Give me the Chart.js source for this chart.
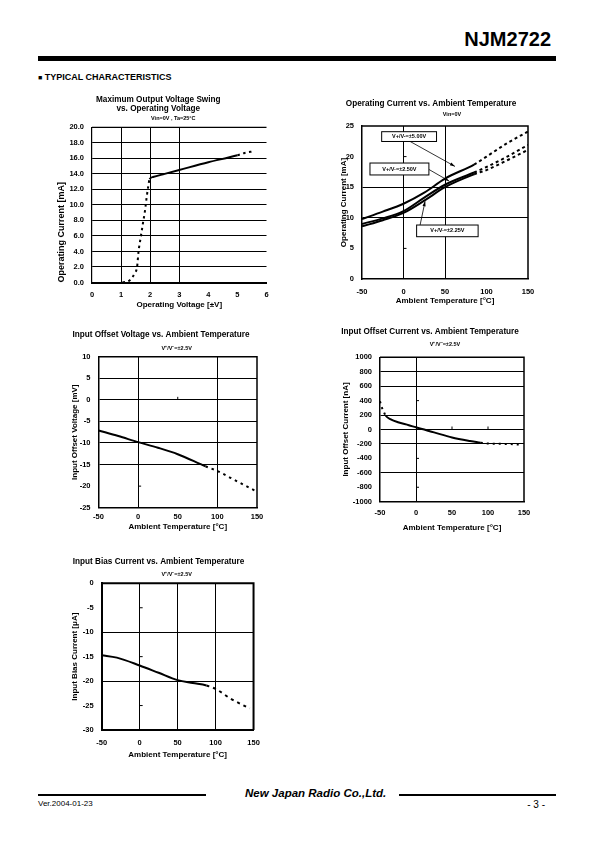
<!DOCTYPE html>
<html>
<head>
<meta charset="utf-8">
<title>NJM2722 Typical Characteristics</title>
<script src="https://cdn.jsdelivr.net/npm/chart.js@4.4.1/dist/chart.umd.min.js"></script>
<style>
  body { margin: 0; width: 595px; height: 842px; position: relative; background: #fff; color: #000;
         font-family: "Liberation Sans", Arial, sans-serif; overflow: hidden; }
  canvas { position: absolute; }
  .abs { position: absolute; white-space: nowrap; }
  #partno { right: 44px; top: 29px; font-size: 20px; line-height: 20px; font-weight: bold; }
  #topbar { left: 38px; top: 56px; width: 518px; height: 5px; background: #000; }
  #section { left: 38px; top: 72px; font-size: 9px; line-height: 10px; font-weight: bold; }
  #section .sq { font-size: 7px; }
  #lineL { left: 38px; top: 794px; width: 168px; height: 2px; background: #000; }
  #lineR { left: 399px; top: 794px; width: 157px; height: 2px; background: #000; }
  #brand { left: 245px; top: 787px; font-size: 11.5px; line-height: 12px; font-weight: bold; font-style: italic; }
  #ver { left: 38px; top: 799px; font-size: 8px; line-height: 9px; }
  #pg { right: 50px; top: 800px; font-size: 10px; line-height: 10px; }
</style>
</head>
<body>
<div id="partno" class="abs">NJM2722</div>
<div id="topbar" class="abs"></div>
<div id="section" class="abs"><span class="sq">■</span> TYPICAL CHARACTERISTICS</div>

<canvas id="c1"></canvas>
<canvas id="c2"></canvas>
<canvas id="c3"></canvas>
<canvas id="c4"></canvas>
<canvas id="c5"></canvas>

<div id="lineL" class="abs"></div>
<div id="brand" class="abs">New Japan Radio Co.,Ltd.</div>
<div id="lineR" class="abs"></div>
<div id="ver" class="abs">Ver.2004-01-23</div>
<div id="pg" class="abs">- 3 -</div>

<script>
// Maximum output voltage swing vs. operating voltage
const swingVolt = [1.05, 1.3, 1.47, 1.55, 1.6, 1.67, 1.75, 1.82, 1.88, 1.93, 1.98, 2.1, 2.5, 3.0, 4.0, 5.0, 5.25, 5.55];
const swingCurr = [0.0, 0.3, 1.2, 2.0, 4.0, 5.7, 7.6, 9.2, 11.0, 12.3, 13.3, 13.6, 14.0, 14.5, 15.5, 16.4, 16.7, 16.9];
const swingXTicks = [0, 1, 2, 3, 4, 5, 6];
const swingYTicks = [0, 2, 4, 6, 8, 10, 12, 14, 16, 18, 20];

// Operating current vs. ambient temperature
const opTemp = [-50, -25, 0, 25, 50, 85, 100, 125, 150];
const opCur500 = [9.8, 11.0, 12.3, 14.1, 16.4, 18.7, 20.0, 22.2, 24.1];
const opCur250 = [9.0, 9.9, 11.1, 13.3, 15.4, 17.4, 18.3, 20.0, 21.9];
const opCur225 = [8.6, 9.6, 10.8, 12.8, 15.0, 17.1, 17.8, 19.4, 21.1];
const opLabels = ['V+/V-=±5.00V', 'V+/V-=±2.50V', 'V+/V-=±2.25V'];
const opYTicks = [0, 5, 10, 15, 20, 25];

const tempTicks = [-50, 0, 50, 100, 150];

// Input offset voltage vs. ambient temperature
const vosTemp = [-50, -25, 0, 25, 50, 85, 100, 125, 147];
const vos = [-7.1, -8.4, -9.8, -11.1, -12.6, -15.4, -16.5, -18.9, -21.0];
const vosYTicks = [-25, -20, -15, -10, -5, 0, 5, 10];

// Input offset current vs. ambient temperature
const iosTemp = [-50, -48, -45, -42, -35, -25, -10, 0, 25, 50, 75, 90, 100, 125, 147];
const ios = [390, 320, 250, 190, 140, 100, 60, 30, -40, -110, -160, -185, -195, -200, -210];
const iosYTicks = [-1000, -800, -600, -400, -200, 0, 200, 400, 600, 800, 1000];

// Input bias current vs. ambient temperature
const ibTemp = [-50, -30, 0, 25, 50, 70, 88, 100, 120, 145];
const ib = [-14.7, -15.2, -16.8, -18.3, -19.8, -20.4, -20.9, -21.6, -23.6, -25.6];
const ibYTicks = [-30, -25, -20, -15, -10, -5, 0];

const FAMILY = '"Liberation Sans", Arial, sans-serif';
const TICK_FONT = { family: FAMILY, size: 7.5, weight: 'bold', lineHeight: 1.2 };
const TITLE_FONT = { family: FAMILY, size: 8.2, weight: 'bold', lineHeight: 1.1 };

function series(xs, ys, dotted, dash) {
    return {
        data: xs.map((x, i) => ({ x: x, y: ys[i] })),
        borderColor: '#000', borderWidth: 2, pointRadius: 0,
        cubicInterpolationMode: 'monotone', fill: false,
        segment: { borderDash: c => dotted(c.p0DataIndex) ? dash : undefined }
    };
}

// subtitle under the chart title
const notePlugin = {
    id: 'note',
    afterDraw(chart, args, o) {
        if (!o.text) return;
        const ctx = chart.ctx;
        ctx.save();
        ctx.font = 'bold 5.5px ' + FAMILY;
        ctx.fillStyle = '#000';
        ctx.textAlign = 'center';
        ctx.textBaseline = 'middle';
        ctx.fillText(o.text, o.x, o.y);
        ctx.restore();
    }
};

// top / right edge of the plot box
const framePlugin = {
    id: 'frame',
    afterDraw(chart, args, o) {
        const a = chart.chartArea, ctx = chart.ctx;
        ctx.save();
        ctx.strokeStyle = '#000';
        ctx.lineWidth = o.width || 1.5;
        ctx.beginPath();
        ctx.moveTo(a.left, a.top);
        ctx.lineTo(a.right, a.top);
        if (o.right) ctx.lineTo(a.right, a.bottom);
        ctx.stroke();
        ctx.restore();
    }
};

// short tick marks left inside the plot
const marksPlugin = {
    id: 'marks',
    beforeDatasetsDraw(chart, args, o) {
        if (!o.list) return;
        const sx = chart.scales.x, sy = chart.scales.y, ctx = chart.ctx;
        ctx.save();
        ctx.strokeStyle = '#000';
        ctx.lineWidth = 1;
        ctx.beginPath();
        o.list.forEach(m => {
            const x = sx.getPixelForValue(m.x), y = sy.getPixelForValue(m.y);
            ctx.moveTo(x, y);
            ctx.lineTo(x + (m.dx || 0), y + (m.dy || 0));
        });
        ctx.stroke();
        ctx.restore();
    }
};

// labelled boxes with arrows (operating current chart)
const calloutPlugin = {
    id: 'callouts',
    afterDatasetsDraw(chart, args, o) {
        if (!o.items) return;
        const sx = chart.scales.x, sy = chart.scales.y, ctx = chart.ctx;
        ctx.save();
        ctx.strokeStyle = '#000';
        ctx.fillStyle = '#000';
        o.items.forEach(c => {
            const fx = sx.getPixelForValue(c.from[0]), fy = sy.getPixelForValue(c.from[1]);
            const tx = sx.getPixelForValue(c.to[0]), ty = sy.getPixelForValue(c.to[1]);
            ctx.lineWidth = 0.8;
            ctx.beginPath(); ctx.moveTo(fx, fy); ctx.lineTo(tx, ty); ctx.stroke();
            const ang = Math.atan2(ty - fy, tx - fx);
            ctx.beginPath();
            ctx.moveTo(tx, ty);
            ctx.lineTo(tx - 5 * Math.cos(ang) + 1.6 * Math.sin(ang), ty - 5 * Math.sin(ang) - 1.6 * Math.cos(ang));
            ctx.lineTo(tx - 5 * Math.cos(ang) - 1.6 * Math.sin(ang), ty - 5 * Math.sin(ang) + 1.6 * Math.cos(ang));
            ctx.closePath(); ctx.fill();

            const x0 = sx.getPixelForValue(c.box[0]), y0 = sy.getPixelForValue(c.box[1]);
            const x1 = sx.getPixelForValue(c.box[2]), y1 = sy.getPixelForValue(c.box[3]);
            ctx.fillStyle = '#fff';
            ctx.fillRect(x0, y0, x1 - x0, y1 - y0);
            ctx.lineWidth = 1;
            ctx.strokeRect(x0, y0, x1 - x0, y1 - y0);
            ctx.fillStyle = '#000';
            ctx.font = 'bold 5.5px ' + FAMILY;
            ctx.textAlign = 'center';
            ctx.textBaseline = 'middle';
            ctx.fillText(c.text, (x0 + x1) / 2, (y0 + y1) / 2);
        });
        ctx.restore();
    }
};

function gridColor(vals) {
    return c => (c.tick && vals.includes(c.tick.value)) ? '#000' : 'rgba(0,0,0,0)';
}

// o.plot = [left, top, right, bottom] of the plot box on the page
function makeChart(id, o) {
    const [pl, pt, pr, pb] = o.plot;
    const tlh = TITLE_FONT.size * TITLE_FONT.lineHeight;
    const axisFont = { family: FAMILY, size: o.axisSize || 8, weight: 'bold', lineHeight: 1.2 };
    const alh = axisFont.size * 1.2;
    const yFont = { family: FAMILY, size: o.yAxisSize || axisFont.size, weight: 'bold', lineHeight: 1.2 };
    const ylh = yFont.size * 1.2;
    const tklh = TICK_FONT.size * TICK_FONT.lineHeight;
    const half = Math.ceil(Math.max(o.titleX - o.yTitleX + ylh, pr + 12 - o.titleX));
    const cl = Math.round(o.titleX - half);
    const ct = Math.round(o.titleY - tlh / 2);
    const cb = Math.round(o.xTitleY + alh / 2 + 2);
    const cv = document.getElementById(id);
    cv.width = 2 * half;
    cv.height = cb - ct;
    cv.style.left = cl + 'px';
    cv.style.top = ct + 'px';
    const lines = Array.isArray(o.title) ? o.title.length : 1;
    const bw = o.borderWidth || 1.5;

    return new Chart(cv, {
        type: 'line',
        data: { datasets: o.datasets },
        options: {
            responsive: false,
            animation: false,
            events: [],
            layout: { padding: { left: 0, top: 0, bottom: 0, right: cl + 2 * half - pr } },
            plugins: {
                legend: { display: false },
                tooltip: { enabled: false },
                title: {
                    display: true, text: o.title, color: '#000', font: TITLE_FONT,
                    padding: { top: 0, bottom: pt - ct - lines * tlh }
                },
                note: { text: o.note, x: o.noteX - cl, y: o.noteY - ct },
                frame: { right: o.frameRight, width: bw },
                marks: { list: o.marks },
                callouts: { items: o.callouts }
            },
            scales: {
                x: {
                    type: 'linear', min: o.xTicks[0], max: o.xTicks[o.xTicks.length - 1],
                    afterBuildTicks: s => { s.ticks = o.xTicks.map(v => ({ value: v })); },
                    afterFit: s => { s.height = cb - pb; },
                    grid: { color: gridColor(o.xGrid), lineWidth: 1, drawTicks: false },
                    border: { color: '#000', width: o.xBorder || bw },
                    ticks: { color: '#000', font: TICK_FONT, padding: o.xTickY - pb - tklh / 2,
                             maxRotation: 0, autoSkip: false },
                    title: { display: true, text: o.xTitle, color: '#000', font: axisFont,
                             padding: { top: 0, bottom: cb - o.xTitleY - alh / 2 } }
                },
                y: {
                    type: 'linear', min: o.yTicks[0], max: o.yTicks[o.yTicks.length - 1],
                    afterBuildTicks: s => { s.ticks = o.yTicks.map(v => ({ value: v })); },
                    afterFit: s => { s.width = pl - cl; },
                    grid: { color: gridColor(o.yGrid), lineWidth: 1, drawTicks: false },
                    border: { color: '#000', width: bw },
                    ticks: { color: '#000', font: TICK_FONT, padding: 8, autoSkip: false,
                             callback: o.yFormat || (v => String(v)) },
                    title: { display: true, text: o.yTitle, color: '#000', font: yFont,
                             align: o.yAlign || 'center',
                             padding: { top: o.yTitleX - cl - ylh / 2, bottom: 0 } }
                }
            }
        },
        plugins: [notePlugin, framePlugin, marksPlugin, calloutPlugin]
    });
}

makeChart('c1', {
    plot: [92, 127.3, 266.5, 282.5], titleX: 179, titleY: 100,
    title: ['Maximum Output Voltage Swing', 'vs. Operating Voltage'],
    note: 'Vin=0V , Ta=25°C', noteX: 173.3, noteY: 118.3,
    yTitleX: 61.7, xTickY: 295, xTitleY: 305, axisSize: 8, yAxisSize: 9, yAlign: 'start',
    xTitle: 'Operating Voltage [±V]', yTitle: 'Operating Current [mA]',
    xTicks: swingXTicks, yTicks: swingYTicks,
    xGrid: [1, 2, 3], yGrid: [2, 4, 6, 8, 10, 12, 14, 16, 18],
    yFormat: v => v.toFixed(1), borderWidth: 1.2, xBorder: 2, frameRight: false,
    datasets: [series(swingVolt, swingCurr, i => i < 10 || i >= 15, [2.5, 3.5])]
});

makeChart('c2', {
    plot: [362, 126, 528, 279], titleX: 439.5, titleY: 104,
    title: 'Operating Current vs. Ambient Temperature',
    note: 'Vin=0V', noteX: 452, noteY: 114.3,
    yTitleX: 344, xTickY: 291.7, xTitleY: 300.5, axisSize: 8,
    xTitle: 'Ambient Temperature [°C]', yTitle: 'Operating Current [mA]',
    xTicks: tempTicks, yTicks: opYTicks,
    xGrid: [0, 50], yGrid: [10, 15], frameRight: true,
    marks: [{ x: 0, y: 20, dx: 3 }, { x: 0, y: 5, dx: 3 }],
    callouts: [
        { text: opLabels[0], box: [-26.3, 24.07, 39.8, 22.47], from: [8, 22.47], to: [62, 18.4] },
        { text: opLabels[1], box: [-40.4, 18.95, 30.6, 17.0], from: [30.6, 17.9], to: [55, 16.0] },
        { text: opLabels[2], box: [15.8, 8.82, 89.9, 6.91], from: [20, 8.82], to: [26, 12.7] }
    ],
    datasets: [
        series(opTemp, opCur500, i => i >= 5, [3, 3]),
        series(opTemp, opCur250, i => i >= 5, [3, 3]),
        series(opTemp, opCur225, i => i >= 5, [3, 3])
    ]
});

makeChart('c3', {
    plot: [98.5, 356.7, 257, 507.7], titleX: 168.5, titleY: 334.3,
    title: 'Input Offset Voltage vs. Ambient Temperature',
    note: 'V⁺/V⁻=±2.5V', noteX: 176.7, noteY: 348,
    yTitleX: 75, xTickY: 516.7, xTitleY: 526.7, axisSize: 8,
    xTitle: 'Ambient Temperature [°C]', yTitle: 'Input Offset Voltage [mV]',
    xTicks: tempTicks, yTicks: vosYTicks,
    xGrid: [0, 100], yGrid: [5, 0, -5, -10, -15], frameRight: true,
    marks: [{ x: 50, y: 0, dy: -3 }, { x: 0, y: -20, dx: 3 }],
    datasets: [series(vosTemp, vos, i => i >= 5, [2.5, 4])]
});

makeChart('c4', {
    plot: [380, 357.3, 524, 501.7], titleX: 438.5, titleY: 331.7,
    title: 'Input Offset Current vs. Ambient Temperature',
    note: 'V⁺/V⁻=±2.5V', noteX: 445, noteY: 344.3,
    yTitleX: 346, xTickY: 513.3, xTitleY: 527.3, axisSize: 8,
    xTitle: 'Ambient Temperature [°C]', yTitle: 'Input Offset Current [nA]',
    xTicks: tempTicks, yTicks: iosYTicks,
    xGrid: [0], yGrid: [800, 600, 200, 0, -200, -600], frameRight: true,
    marks: [{ x: 0, y: 400, dx: 3 }, { x: 0, y: -400, dx: 3 }, { x: 0, y: -800, dx: 3 },
            { x: 50, y: 0, dy: -3 }, { x: 100, y: 0, dy: -3 }],
    datasets: [series(iosTemp, ios, i => i < 3 || i >= 11, [2, 4])]
});

makeChart('c5', {
    plot: [101.7, 583.3, 255, 730], titleX: 164.5, titleY: 561.7,
    title: 'Input Bias Current vs. Ambient Temperature',
    note: 'V⁺/V⁻=±2.5V', noteX: 176.7, noteY: 574,
    yTitleX: 75, xTickY: 742.7, xTitleY: 755, axisSize: 8,
    xTitle: 'Ambient Temperature [°C]', yTitle: 'Input Bias Current [μA]',
    xTicks: tempTicks, yTicks: ibYTicks,
    xGrid: [0, 50, 100], yGrid: [-10, -20], frameRight: true, borderWidth: 2,
    marks: [{ x: 0, y: -5, dx: 3 }, { x: 0, y: -15, dx: 3 }, { x: 0, y: -25, dx: 3 }],
    datasets: [series(ibTemp, ib, i => i >= 6, [3, 4])]
});
</script>
</body>
</html>
